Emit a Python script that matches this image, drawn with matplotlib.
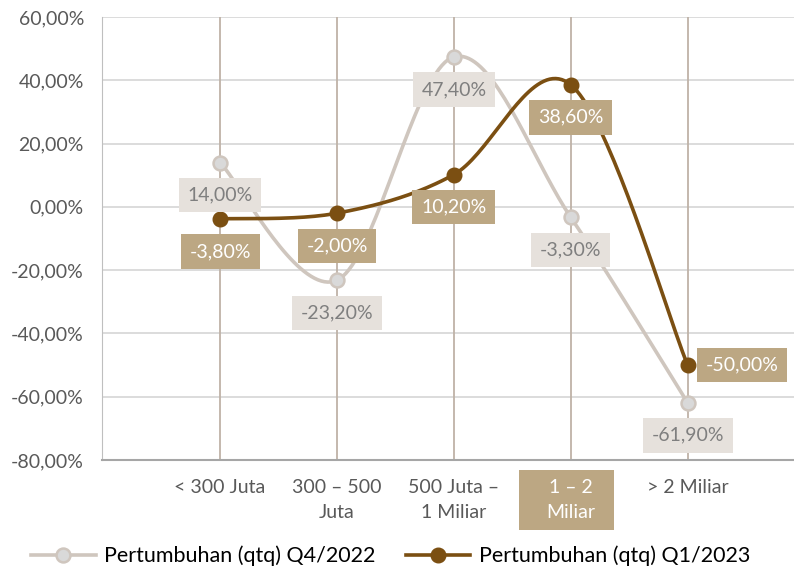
import numpy as np
import matplotlib
matplotlib.use("Agg")
import matplotlib.pyplot as plt
from matplotlib.lines import Line2D
from matplotlib.patches import Rectangle
import matplotlib.transforms as mtransforms
import matplotlib.ticker as ticker

plt.rcParams['font.family'] = ['Lato', 'DejaVu Sans']

categories = ["< 300 Juta", "300 \u2013 500\nJuta", "500 Juta \u2013\n1 Miliar", "1 \u2013 2\nMiliar", "> 2 Miliar"]
q4_2022 = [14.0, -23.2, 47.4, -3.3, -61.9]
q1_2023 = [-3.8, -2.0, 10.2, 38.6, -50.0]
labels_q4 = ["14,00%", "-23,20%", "47,40%", "-3,30%", "-61,90%"]
labels_q1 = ["-3,80%", "-2,00%", "10,20%", "38,60%", "-50,00%"]
yticks = [60, 40, 20, 0, -20, -40, -60, -80]

C_Q4 = "#CFC6BE"
C_Q4_MK = "#D9D9D9"
C_Q1 = "#7B4F12"
C_BOX_Q4 = "#E6E1DC"
C_BOX_Q1 = "#BCA783"
C_TXT = "#595959"


def smooth(x, y, n=40):
    # catmull-rom like excel smoothed lines
    x = np.asarray(x, float)
    y = np.asarray(y, float)
    px = np.concatenate([[x[0]], x, [x[-1]]])
    py = np.concatenate([[y[0]], y, [y[-1]]])
    xs, ys = [], []
    t = np.linspace(0, 1, n)
    for i in range(1, len(px) - 2):
        p0x, p1x, p2x, p3x = px[i - 1], px[i], px[i + 1], px[i + 2]
        p0y, p1y, p2y, p3y = py[i - 1], py[i], py[i + 1], py[i + 2]
        c1x, c1y = p1x + (p2x - p0x) / 6, p1y + (p2y - p0y) / 6
        c2x, c2y = p2x - (p3x - p1x) / 6, p2y - (p3y - p1y) / 6
        bx = (1-t)**3*p1x + 3*(1-t)**2*t*c1x + 3*(1-t)*t**2*c2x + t**3*p2x
        by = (1-t)**3*p1y + 3*(1-t)**2*t*c1y + 3*(1-t)*t**2*c2y + t**3*p2y
        xs.extend(bx)
        ys.extend(by)
    return np.array(xs), np.array(ys)


fig = plt.figure(figsize=(7.94, 5.73), dpi=100)
ax = fig.add_axes([102/794, 113/573, 692/794, 443/573])

x = np.arange(len(categories))

# gridlines
for v in yticks:
    ax.axhline(v, color="#D9D9D9", lw=1.3, zorder=0)
for xi in x:
    ax.axvline(xi, color="#BFB2A7", lw=1.3, zorder=0)

sx, sy = smooth(x, q4_2022)
ax.plot(sx, sy, color=C_Q4, lw=2.6, zorder=2, solid_capstyle="round")
ax.plot(x, q4_2022, "o", ms=10, mfc=C_Q4_MK, mec=C_Q4, mew=1.8, zorder=3)

sx, sy = smooth(x, q1_2023)
ax.plot(sx, sy, color=C_Q1, lw=2.6, zorder=4, solid_capstyle="round")
ax.plot(x, q1_2023, "o", ms=10.5, mfc=C_Q1, mec=C_Q1, zorder=5)

for xi, v, t in zip(x, q4_2022, labels_q4):
    ax.annotate(t, (xi, v), xytext=(0, -23.5), textcoords="offset points",
                ha="center", va="center", fontsize=14, color="#7F7F7F", zorder=6,
                bbox=dict(boxstyle="square,pad=0.45", fc=C_BOX_Q4, ec="none"))

for i, (xi, v, t) in enumerate(zip(x, q1_2023, labels_q1)):
    if i == len(x) - 1:
        off, ha = (13, 0), "left"
    else:
        off, ha = (0, -23.5), "center"
    ax.annotate(t, (xi, v), xytext=off, textcoords="offset points",
                ha=ha, va="center", fontsize=14, color="white", zorder=7,
                bbox=dict(boxstyle="square,pad=0.45", fc=C_BOX_Q1, ec="none"))

ax.set_xlim(-1.01, 4.91)
ax.set_ylim(-80, 60)
ax.set_yticks(yticks)
ax.yaxis.set_major_formatter(ticker.FuncFormatter(lambda v, p: f"{v:.2f}%".replace(".", ",")))
ax.set_xticks(x)
ax.set_xticklabels(categories, fontsize=14, color=C_TXT, linespacing=1.55)
ax.tick_params(axis="y", labelsize=14, labelcolor=C_TXT, length=0, pad=13)
ax.tick_params(axis="x", length=0, pad=14)

hl = ax.get_xticklabels()[3]
hl.set_color("white")
trans = mtransforms.blended_transform_factory(ax.transData, fig.transFigure)
ax.add_patch(Rectangle((2.56, 1 - 530/573), 0.81, 60/573, transform=trans,
                       fc=C_BOX_Q1, ec="none", zorder=0, clip_on=False))

for s in ["top", "right"]:
    ax.spines[s].set_visible(False)
ax.spines["left"].set_color("#BFBFBF")
ax.spines["bottom"].set_color("#A6A6A6")
ax.spines["bottom"].set_linewidth(1.5)

handles = [
    Line2D([], [], color=C_Q4, lw=2.6, marker="o", ms=10, mfc=C_Q4_MK, mec=C_Q4, mew=1.8),
    Line2D([], [], color=C_Q1, lw=2.6, marker="o", ms=10.5, mfc=C_Q1, mec=C_Q1),
]
fig.legend(handles, ["Pertumbuhan (qtq) Q4/2022", "Pertumbuhan (qtq) Q1/2023"],
           loc="center", bbox_to_anchor=(0.492, 1 - 556/573), ncol=2, frameon=False,
           fontsize=15.5, handlelength=3.0, columnspacing=1.4, handletextpad=0.4,
           labelcolor="#000000")

fig.savefig("out.png", dpi=100)
